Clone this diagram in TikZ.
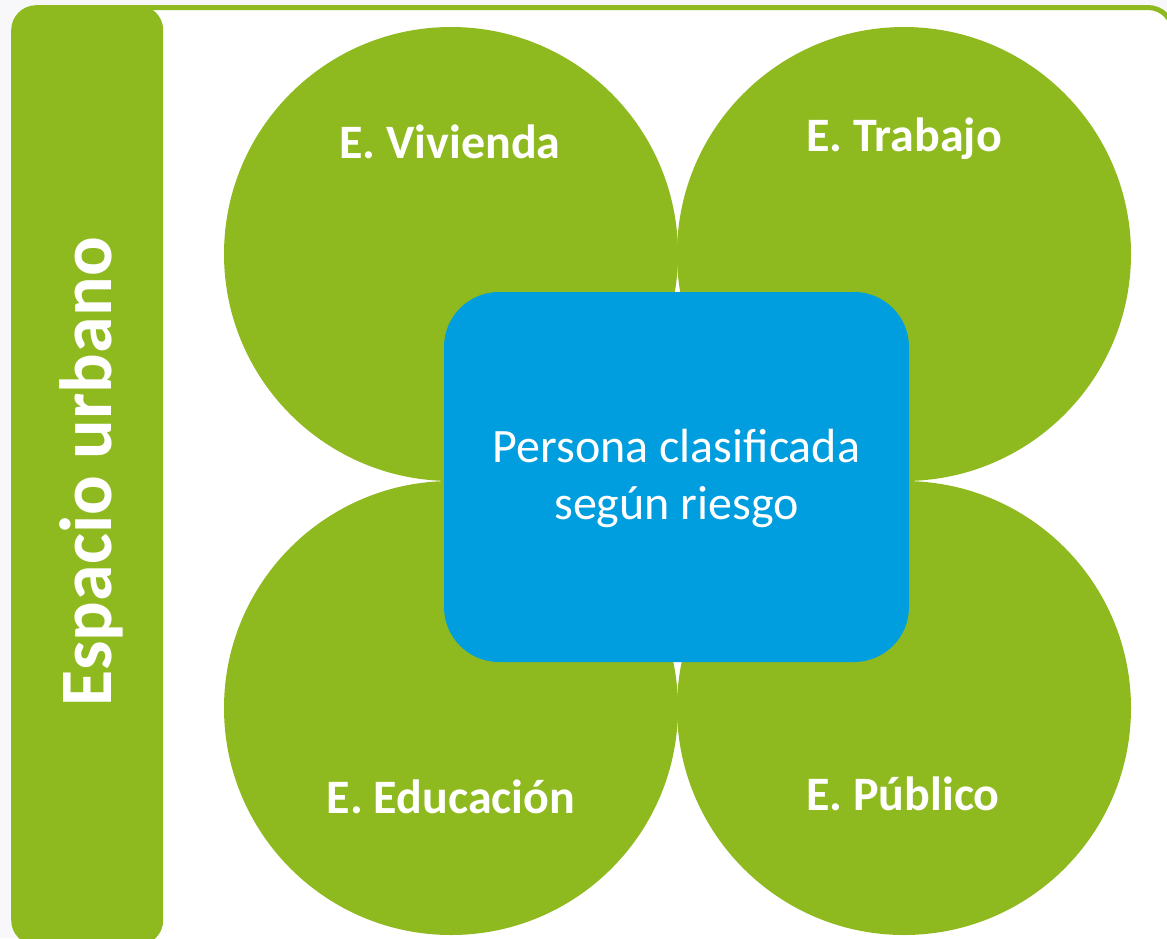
\documentclass[tikz,border=0pt]{standalone}
\usepackage{fontspec}
\setmainfont{Carlito}
\definecolor{lgreen}{RGB}{143,186,31}
\definecolor{lblue}{RGB}{0,158,222}
\definecolor{bggray}{RGB}{248,248,250}
\begin{document}
\begin{tikzpicture}[x=1pt,y=-1pt,
  petal/.style={circle,fill=lgreen,minimum size=454pt,inner sep=0pt},
  petallabel/.style={text=white,font=\fontsize{48}{56}\selectfont\bfseries,inner sep=0pt}]
\path[use as bounding box,fill=bggray] (0,0) rectangle (1167,938);
\begin{scope}
\clip (0,0) rectangle (1167,938);
\draw[lgreen,line width=5pt,fill=white,rounded corners=25pt] (22,7.5) rectangle (1173,962);
\end{scope}
\node[petal] (tl) at (451,254) {};
\node[petal] (tr) at (904,254) {};
\node[petal] (bl) at (451,708) {};
\node[petal] (br) at (904,708) {};
\node[petallabel] (ltl) at (450,142) {E. Vivienda};
\node[petallabel] (ltr) at (904,139) {E. Trabajo};
\node[petallabel] (lbl) at (451,797) {E. Educación};
\node[petallabel] (lbr) at (903,794) {E. Público};
\node[fill=lblue,rounded corners=55pt,minimum width=465pt,minimum height=370pt,inner sep=0pt] (center) at (676.5,477) {};
\node[text=white,font=\fontsize{48}{57}\selectfont,align=center] (ctext) at (676.5,478) {Persona clasificada\\según riesgo};
\node[fill=lgreen,rounded corners=25pt,minimum width=152pt,minimum height=940pt,inner sep=0pt,anchor=north west] (bar) at (11,5) {};
\node[text=white,font=\fontsize{74}{80}\selectfont\bfseries,rotate=90] (bartext) at (91,472) {Espacio urbano};
\end{tikzpicture}
\end{document}
